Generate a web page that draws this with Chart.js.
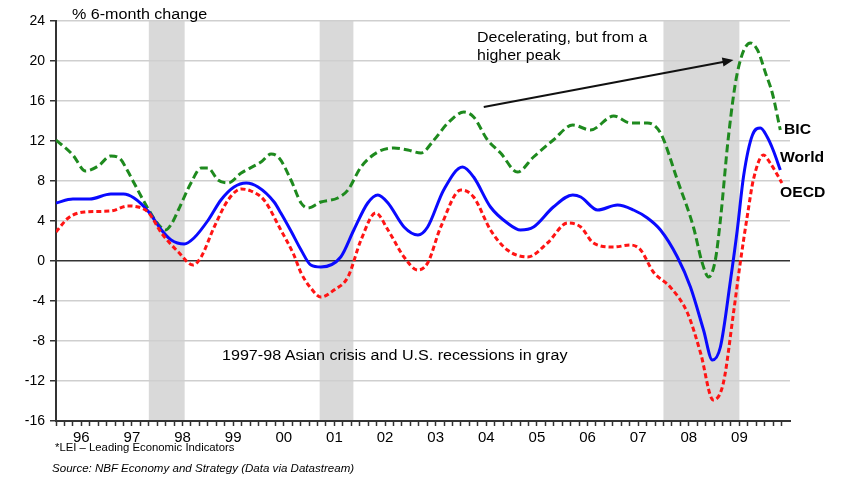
<!DOCTYPE html>
<html>
<head>
<meta charset="utf-8">
<script src="https://cdn.jsdelivr.net/npm/chart.js@4.4.1/dist/chart.umd.min.js"></script>
<style>
body { margin: 0; background: #fff; }
#wrap { position: relative; width: 842px; height: 483px; font-family: "Liberation Sans", Arial, sans-serif; color: #000; }
#c { position: absolute; left: 0; top: 0; }
.t { position: absolute; white-space: nowrap; transform-origin: 0 0; line-height: 1; }
.lab { font-weight: bold; font-size: 14px; transform: scaleX(1.12); }
</style>
</head>
<body>
<div id="wrap">
  <canvas id="c" width="842" height="483"></canvas>
  <div class="t" style="left:72px;top:7px;font-size:14px;transform:scaleX(1.15)">% 6-month change</div>
  <div class="t" style="left:477px;top:28px;font-size:14px;line-height:18px;transform:scaleX(1.14)">Decelerating, but from a<br>higher peak</div>
  <div class="t" style="left:222px;top:348px;font-size:14px;transform:scaleX(1.15)">1997-98 Asian crisis and U.S. recessions in gray</div>
  <div class="t" style="left:55px;top:442px;font-size:11px;transform:scaleX(1.03)">*LEI &ndash; Leading Economic Indicators</div>
  <div class="t" style="left:52px;top:463px;font-size:11px;font-style:italic;transform:scaleX(1.05)">Source: NBF Economy and Strategy (Data via Datastream)</div>
  <div class="t lab" style="left:784px;top:122px">BIC</div>
  <div class="t lab" style="left:780px;top:150px">World</div>
  <div class="t lab" style="left:780px;top:185px">OECD</div>
</div>
<script>
// x positions are months since Jan 1996
const yearLabels = ['96', '97', '98', '99', '00', '01', '02', '03', '04', '05', '06', '07', '08', '09'];

const bicMonths = [0, 4, 7, 10, 13, 15, 17, 18.5, 22, 24, 26, 27.5, 29, 32, 34.4, 36, 38.4, 40.8, 43.9, 48.6,
  51, 52.9, 55.7, 58.1, 59.7, 62.8, 66.8, 69.2, 72.3, 76.3, 80.1, 83.4, 86.5, 89.6, 92.9, 96.7, 99, 102.3,
  105.4, 109.4, 113.2, 117.9, 122.5, 126.7, 132.2, 136.2, 140.2, 143.3, 147.3, 151.1, 153.2, 154.7, 156.3,
  157.5, 159.4, 161.5, 164.6, 166.3, 168.2, 169.8, 171.7];
const bicValues = [12.1, 10.6, 9.0, 9.5, 10.5, 10.3, 9.0, 7.8, 5.1, 3.8, 3.1, 3.8, 5.1, 7.8, 9.3, 9.3, 8.1, 7.8, 8.8, 9.9,
  10.7, 10.3, 8.1, 5.8, 5.3, 5.9, 6.3, 7.1, 9.4, 10.9, 11.3, 11.1, 10.8, 12.1, 13.8, 14.9, 14.4, 12.1,
  10.8, 8.9, 10.4, 12.1, 13.6, 13.1, 14.5, 13.8, 13.8, 12.8, 8.1, 3.4, -0.2, -1.6, 0.1,
  4.1, 12.4, 18.8, 21.8, 21.1, 18.8, 16.8, 13.1];

const worldMonths = [0, 4, 8, 13, 16, 18.5, 22, 25, 27.3, 30.4, 32.7, 36.1, 39.1, 42.2, 45.1, 47.9, 51.7, 53.3, 55.7,
  58.1, 60.4, 62.8, 67.5, 70.6, 73.9, 76.3, 78.7, 82.5, 85.8, 88.1, 91.9, 96.4, 99, 103, 107, 110.1, 113.2,
  117.9, 122.5, 124.4, 128.4, 133.1, 136.9, 140.2, 143.3, 147.3, 150.4, 153.5, 155.6, 157.5, 159.9, 161.5,
  163, 165.1, 167, 168.6, 170, 171.7];
const worldValues = [5.8, 6.2, 6.2, 6.7, 6.7, 6.3, 4.9, 3.1, 2.1, 1.7, 2.3, 4.1, 6.1, 7.4, 7.8, 7.4, 5.9, 4.8, 3.0,
  1.1, -0.4, -0.6, 0.4, 3.1, 5.8, 6.6, 5.8, 3.4, 2.6, 3.4, 7.1, 9.4, 8.4, 5.4, 3.8, 3.1, 3.4,
  5.4, 6.6, 6.4, 5.1, 5.6, 5.1, 4.3, 3.1, 0.4, -2.6, -6.9, -9.9, -8.6, -1.9, 3.1,
  8.5, 12.6, 13.3, 12.4, 11.1, 9.1];

const oecdMonths = [0, 2.9, 6.7, 13, 17, 19.5, 22, 25, 29, 32.5, 34.4, 37.5, 40.8, 43.9, 46.2, 49.3, 53.3, 56.4, 58.1,
  60.4, 62.8, 65.9, 69.2, 72.3, 75.8, 78.7, 82.5, 85.8, 88.1, 91.2, 96, 99, 103, 107, 111.8, 116.5, 121.3,
  124.4, 127.4, 132.2, 136.2, 138.6, 141.6, 145.6, 149.7, 152.8, 155.8, 158.2, 160.6, 162.2, 164.1, 165.3,
  167.7, 169.3, 172.1];
const oecdValues = [2.9, 4.3, 4.9, 5.0, 5.5, 5.4, 4.8, 2.8, 0.9, -0.4, 0.4, 3.4, 6.1, 7.2, 7.0, 6.1, 3.1, 0.6, -1.2,
  -2.7, -3.6, -2.9, -1.6, 2.1, 4.8, 3.1, 0.4, -0.9, -0.2, 3.4, 7.1, 6.4, 3.1, 1.1, 0.4, 1.8, 3.8,
  3.4, 1.8, 1.4, 1.6, 1.1, -1.1, -2.6, -5.2, -9.2, -13.9, -12.2, -5.2, -0.2, 5.1, 8.1,
  10.6, 9.8, 7.8];

// Asian crisis and U.S. recessions, start/end month
const grayBands = [[22, 30.5], [62.5, 70.5], [144, 162]];
// annotation arrow, from/to (month, value)
const arrowFrom = [101.4, 15.4];
const arrowTo = [160.6, 20.1];

function pts(months, values) {
  return months.map((m, i) => ({ x: m, y: values[i] }));
}

const bandsPlugin = {
  id: 'bands',
  beforeDraw(chart) {
    const { ctx, chartArea, scales } = chart;
    ctx.save();
    ctx.fillStyle = '#d9d9d9';
    grayBands.forEach(b => {
      const x1 = scales.x.getPixelForValue(b[0]);
      const x2 = scales.x.getPixelForValue(b[1]);
      ctx.fillRect(x1, chartArea.top - 1, x2 - x1, chartArea.bottom - chartArea.top + 1);
    });
    ctx.restore();
  }
};

const arrowPlugin = {
  id: 'arrow',
  afterDatasetsDraw(chart) {
    const { ctx, scales } = chart;
    const x1 = scales.x.getPixelForValue(arrowFrom[0]), y1 = scales.y.getPixelForValue(arrowFrom[1]);
    const x2 = scales.x.getPixelForValue(arrowTo[0]), y2 = scales.y.getPixelForValue(arrowTo[1]);
    const a = Math.atan2(y2 - y1, x2 - x1);
    ctx.save();
    ctx.strokeStyle = '#111';
    ctx.fillStyle = '#111';
    ctx.lineWidth = 2;
    ctx.beginPath();
    ctx.moveTo(x1, y1);
    ctx.lineTo(x2 - 8 * Math.cos(a), y2 - 8 * Math.sin(a));
    ctx.stroke();
    ctx.beginPath();
    ctx.moveTo(x2, y2);
    ctx.lineTo(x2 - 11 * Math.cos(a) + 4.5 * Math.sin(a), y2 - 11 * Math.sin(a) - 4.5 * Math.cos(a));
    ctx.lineTo(x2 - 11 * Math.cos(a) - 4.5 * Math.sin(a), y2 - 11 * Math.sin(a) + 4.5 * Math.cos(a));
    ctx.closePath();
    ctx.fill();
    ctx.restore();
  }
};

const ctx = document.getElementById('c').getContext('2d');
new Chart(ctx, {
  type: 'line',
  data: {
    datasets: [
      {
        label: 'OECD',
        data: pts(oecdMonths, oecdValues),
        borderColor: '#ff1414',
        borderWidth: 3,
        borderDash: [5, 3],
        pointRadius: 0,
        cubicInterpolationMode: 'monotone'
      },
      {
        label: 'World',
        data: pts(worldMonths, worldValues),
        borderColor: '#0a0aff',
        borderWidth: 3,
        pointRadius: 0,
        cubicInterpolationMode: 'monotone'
      },
      {
        label: 'BIC',
        data: pts(bicMonths, bicValues),
        borderColor: '#1e8a1e',
        borderWidth: 3,
        borderDash: [8, 4],
        pointRadius: 0,
        cubicInterpolationMode: 'monotone'
      }
    ]
  },
  options: {
    responsive: false,
    animation: false,
    devicePixelRatio: 1,
    layout: { padding: { top: 21, right: 52, left: 0, bottom: 0 } },
    plugins: { legend: { display: false }, tooltip: { enabled: false } },
    scales: {
      x: {
        type: 'linear',
        min: 0,
        max: 174,
        afterFit(scale) { scale.height = 62; },
        afterBuildTicks(scale) {
          const t = [];
          for (let v = 0; v <= 174; v += 2) t.push({ value: v });
          scale.ticks = t;
        },
        ticks: {
          autoSkip: false,
          maxRotation: 0,
          padding: 3,
          color: '#000',
          font: { family: 'Liberation Sans', size: 15 },
          callback: v => (v % 12 === 6 ? yearLabels[(v - 6) / 12] : '')
        },
        grid: { drawOnChartArea: false, drawTicks: true, tickLength: 5, tickColor: '#333', tickWidth: 1.5 },
        border: { color: '#333', width: 2 }
      },
      y: {
        min: -16,
        max: 24,
        afterFit(scale) { scale.width = 56; },
        ticks: {
          stepSize: 4,
          padding: 5,
          color: '#000',
          font: { family: 'Liberation Sans', size: 14 }
        },
        grid: {
          color: c => (c.tick && c.tick.value === 0 ? '#333' : '#cfcfcf'),
          lineWidth: 1.5,
          tickLength: 6,
          tickColor: '#333'
        },
        border: { color: '#333', width: 2 }
      }
    }
  },
  plugins: [bandsPlugin, arrowPlugin]
});
</script>
</body>
</html>
